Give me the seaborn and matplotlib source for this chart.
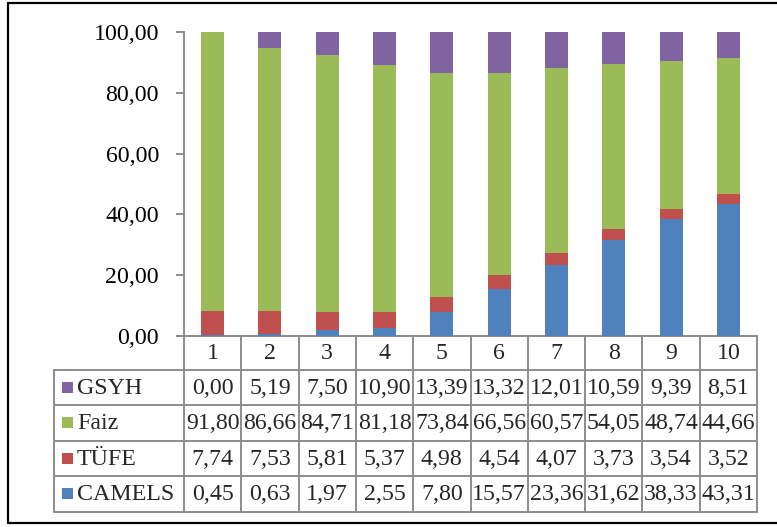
import matplotlib
matplotlib.use("Agg")
import matplotlib.pyplot as plt
from matplotlib.ticker import FuncFormatter, FixedLocator
from matplotlib.lines import Line2D
from matplotlib.patches import Rectangle
import numpy as np
import pandas as pd
import seaborn as sns

# --- data -------------------------------------------------------------
periods = ["1", "2", "3", "4", "5", "6", "7", "8", "9", "10"]
camels = [0.45, 0.63, 1.97, 2.55, 7.80, 15.57, 23.36, 31.62, 38.33, 43.31]
tufe = [7.74, 7.53, 5.81, 5.37, 4.98, 4.54, 4.07, 3.73, 3.54, 3.52]
faiz = [91.80, 86.66, 84.71, 81.18, 73.84, 66.56, 60.57, 54.05, 48.74, 44.66]
gsyh = [0.00, 5.19, 7.50, 10.90, 13.39, 13.32, 12.01, 10.59, 9.39, 8.51]
y_ticks = [0, 20, 40, 60, 80, 100]

series_names = ["CAMELS", "TÜFE", "Faiz", "GSYH"]
colors = {"CAMELS": "#4F81BD", "TÜFE": "#C0504D", "Faiz": "#9BBB59", "GSYH": "#8064A2"}

df = pd.DataFrame({"period": periods, "CAMELS": camels, "TÜFE": tufe,
                   "Faiz": faiz, "GSYH": gsyh})

# cumulative tops for stacking (bottom series first)
cum = df[series_names].cumsum(axis=1)

sns.set_style("white")
plt.rcParams["font.family"] = ["Liberation Serif", "DejaVu Serif"]

W, H = 777, 527
fig = plt.figure(figsize=(W / 100, H / 100), dpi=100)

# full-figure pixel canvas for the frame and the data table
canvas = fig.add_axes([0, 0, 1, 1], zorder=0)
canvas.set_xlim(0, W)
canvas.set_ylim(H, 0)
canvas.axis("off")

ax_l, ax_r, ax_t, ax_b = 184, 757, 32, 336
ax = fig.add_axes([ax_l / W, 1 - ax_b / H, (ax_r - ax_l) / W, (ax_b - ax_t) / H], zorder=2)
ax.patch.set_alpha(0)

# stacked bars: draw the running totals from top series down
for name in reversed(series_names):
    sns.barplot(data=cum.assign(period=periods), x="period", y=name, order=periods,
                color=colors[name], saturation=1, width=0.4, ax=ax, linewidth=0)

fs = 17.2
ax.set_xlim(-0.5, len(periods) - 0.5)
ax.set_ylim(0, 100)
ax.yaxis.set_major_locator(FixedLocator(y_ticks))
ax.yaxis.set_major_formatter(FuncFormatter(lambda v, p: f"{v:.2f}".replace(".", ",")))
ax.set_xticks([])
ax.set_xlabel("")
ax.set_ylabel("")
grid_c = "#8C8C8C"
for s in ["top", "right", "bottom"]:
    ax.spines[s].set_visible(False)
ax.spines["left"].set_color(grid_c)
ax.spines["left"].set_linewidth(1.4)
ax.tick_params(axis="y", which="major", left=True, length=6, width=1.4, color=grid_c,
               pad=12, labelsize=fs, labelcolor="black")

# --- data table under the plot -----------------------------------------
fig.canvas.draw()
def col_px(xd):
    return ax.transData.transform((xd, 0))[0]

bounds = [col_px(i - 0.5) for i in range(len(periods) + 1)]
centers = [col_px(i) for i in range(len(periods))]
label_left = 54
rows_y = [336, 369.5, 405, 440.5, 476, 511.5]
lw = 1.4

def hline(x0, x1, y):
    canvas.add_line(Line2D([x0, x1], [y, y], color=grid_c, lw=lw, zorder=3))

def vline(x, y0, y1):
    canvas.add_line(Line2D([x, x], [y0, y1], color=grid_c, lw=lw, zorder=3))

# axis baseline (extends slightly left like a tick)
hline(bounds[0] - 7, bounds[-1], rows_y[0])
for y in rows_y[1:]:
    hline(label_left, bounds[-1], y)
for xb in bounds:
    vline(xb, rows_y[0], rows_y[-1])
vline(label_left, rows_y[1], rows_y[-1])

for c, lab in zip(centers, periods):
    canvas.text(c, (rows_y[0] + rows_y[1]) / 2 + 1, lab, ha="center", va="center",
                fontsize=fs, zorder=4)

table_order = ["GSYH", "Faiz", "TÜFE", "CAMELS"]
for r, name in enumerate(table_order):
    y0, y1 = rows_y[r + 1], rows_y[r + 2]
    yc = (y0 + y1) / 2
    canvas.add_patch(Rectangle((62, yc - 5.5), 11, 11, facecolor=colors[name],
                               edgecolor="none", zorder=4))
    canvas.text(77, yc + 1, name, ha="left", va="center", fontsize=fs, zorder=4)
    for c, v in zip(centers, df[name].tolist()):
        canvas.text(c, yc + 1, f"{v:.2f}".replace(".", ","), ha="center", va="center",
                    fontsize=fs, zorder=4)

# outer frame
for (xs, ys) in [([8, 8], [3, 523]), ([8, W + 5], [3, 3]), ([8, W + 5], [523, 523])]:
    canvas.add_line(Line2D(xs, ys, color="black", lw=1.6, zorder=5))

fig.savefig("out.png", dpi=100)
